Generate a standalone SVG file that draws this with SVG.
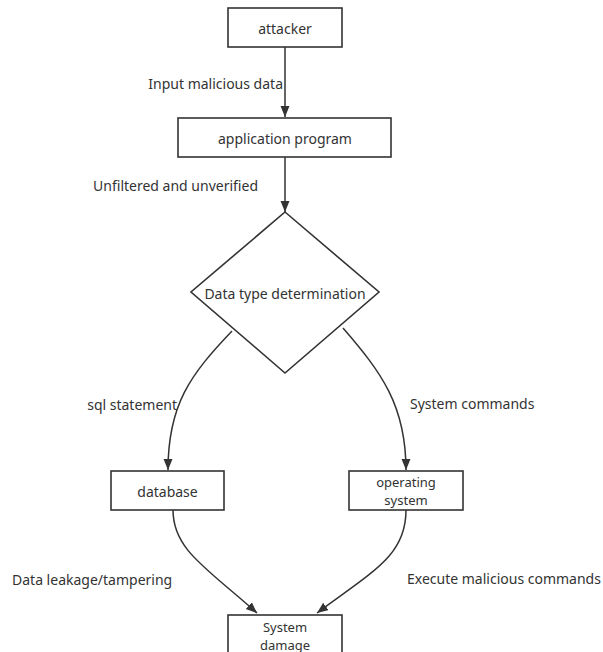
<svg xmlns="http://www.w3.org/2000/svg" width="603" height="652" viewBox="0 0 603 652">
<style>
.box{fill:#fff;stroke:#333;stroke-width:1.6}
.t{font-family:"Noto Sans","Open Sans",sans-serif;font-size:14px;fill:#333;dominant-baseline:central}
.s{font-size:13px}
.c{text-anchor:middle}
.e{text-anchor:end}
.ln{fill:none;stroke:#333;stroke-width:1.5;marker-end:url(#ah)}
</style>
<defs>
<marker id="ah" markerUnits="userSpaceOnUse" markerWidth="12" markerHeight="10" refX="11" refY="4.5" orient="auto">
<path d="M0,0 L11,4.5 L0,9 z" fill="#333"/>
</marker>
</defs>
<rect width="603" height="652" fill="#fff"/>
<g id="connectors">
<path class="ln" d="M285,47 L285,117"/>
<path class="ln" d="M285,157 L285,212"/>
<path class="ln" d="M232,331 C190,375 168,405 168,470"/>
<path class="ln" d="M343,328 C381,372 406,405 406,470"/>
<path class="ln" d="M173,510 C173,550 207,568 257,613"/>
<path class="ln" d="M406,510 C406,555 375,570 317,613"/>
<text class="t e" x="283" y="83">Input malicious data</text>
<text class="t e" x="258" y="185">Unfiltered and unverified</text>
<text class="t e" x="177" y="404">sql statement</text>
<text class="t" x="410" y="403">System commands</text>
<text class="t" x="12" y="579">Data leakage/tampering</text>
<text class="t" x="407" y="578">Execute malicious commands</text>
</g>
<g id="attacker">
<rect class="box" x="228" y="8" width="114" height="39"/>
<text class="t c" x="285" y="28">attacker</text>
</g>
<g id="application">
<rect class="box" x="178" y="118" width="213" height="39"/>
<text class="t c" x="285" y="138">application program</text>
</g>
<g id="decision">
<polygon class="box" points="285,212 379,292 285,373 191,292"/>
<text class="t c" x="285" y="293">Data type determination</text>
</g>
<g id="database">
<rect class="box" x="111" y="471" width="113" height="39"/>
<text class="t c" x="167.5" y="491">database</text>
</g>
<g id="os">
<rect class="box" x="349" y="471" width="114" height="39"/>
<text class="t s c" x="406" y="481.5">operating<tspan x="406" dy="18">system</tspan></text>
</g>
<g id="damage">
<rect class="box" x="228" y="615" width="114" height="39"/>
<text class="t s c" x="285" y="626.5">System<tspan x="285" dy="18">damage</tspan></text>
</g>
</svg>
